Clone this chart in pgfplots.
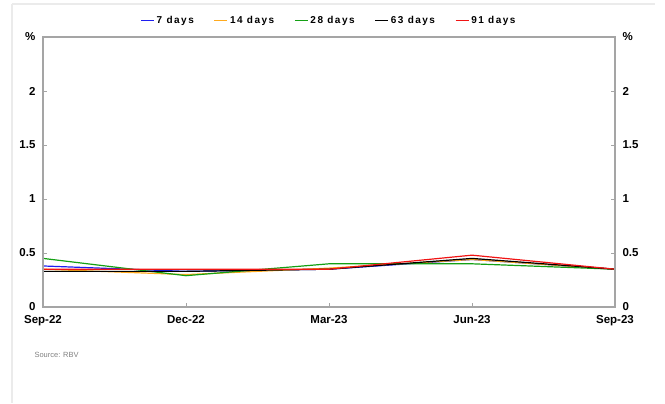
\documentclass[border=0pt]{standalone}
\usepackage{pgfplots}
\pgfplotsset{compat=1.18}
\usepackage{fontspec}
\setmainfont{Liberation Sans}
\definecolor{cblue}{RGB}{30,30,240}
\definecolor{corange}{RGB}{255,170,30}
\definecolor{cgreen}{RGB}{20,160,20}
\definecolor{cred}{RGB}{240,20,20}
\definecolor{frame}{RGB}{165,165,165}
\begin{document}
\begin{tikzpicture}
\pgfplotsset{
  base/.style={
    scale only axis, width=572pt, height=270pt,
    xmin=0, xmax=4, ymin=0, ymax=2.5,
    ytick={0,0.5,1,1.5,2,2.5},
    yticklabels={0,0.5,1,1.5,2,\%},
    tick align=inside,
    major tick length=4pt,
    tick style={frame, line width=0.6pt},
    axis line style={frame, line width=1.2pt},
    ticklabel style={font=\fontsize{11.5}{13}\selectfont\bfseries},
    /pgf/number format/assume math mode=true,
  }
}
\begin{axis}[base,
  name=main,
  xtick={0,1,2,3,4},
  xticklabels={Sep-22,Dec-22,Mar-23,Jun-23,Sep-23},
  xtick pos=bottom, ytick pos=left,
  xticklabel style={yshift=-5pt},
  yticklabel style={xshift=-4pt},
  legend columns=5,
  legend style={at={(0.5,1)}, anchor=south, yshift=8pt, draw=none, fill=none,
    font=\fontsize{10}{11}\selectfont\bfseries\addfontfeature{LetterSpace=15},
    /tikz/every even column/.append style={column sep=18pt}},
  legend image code/.code={\draw[#1, line width=1.2pt] (0pt,0pt) -- (13pt,0pt);},
  every axis plot/.append style={line width=1.2pt},
]
\addplot[cblue] coordinates {(0,0.38) (1,0.33) (2,0.35) (3,0.44) (4,0.35)};
\addlegendentry{7 days}
\addplot[corange] coordinates {(0,0.35) (1,0.30) (2,0.36) (3,0.44) (4,0.35)};
\addlegendentry{14 days}
\addplot[cgreen] coordinates {(0,0.45) (1,0.29) (2,0.40) (3,0.40) (4,0.35)};
\addlegendentry{28 days}
\addplot[black] coordinates {(0,0.33) (1,0.33) (2,0.35) (3,0.45) (4,0.35)};
\addlegendentry{63 days}
\addplot[cred] coordinates {(0,0.35) (1,0.35) (2,0.35) (3,0.48) (4,0.35)};
\addlegendentry{91 days}
\end{axis}
\begin{axis}[base,
  axis y line*=right, hide x axis,
  yticklabel style={xshift=4pt},
]
\end{axis}
\draw[frame, line width=1.2pt] (main.north west) rectangle (main.south east);
\node[anchor=west, font=\fontsize{7.5}{9}\selectfont, text=gray] at ([xshift=-12pt,yshift=-48pt]main.south west) {Source: RBV};
\draw[black!8, line width=1.5pt] ([xshift=-31pt,yshift=33pt]main.north west) -- ([xshift=40pt,yshift=33pt]main.north east);
\draw[black!8, line width=1.5pt] ([xshift=-31pt,yshift=33pt]main.north west) -- ([xshift=-31pt,yshift=-96pt]main.south west);
\path ([xshift=-43pt,yshift=-96pt]main.south west) rectangle ([xshift=50pt,yshift=37pt]main.north east);
\end{tikzpicture}
\end{document}
